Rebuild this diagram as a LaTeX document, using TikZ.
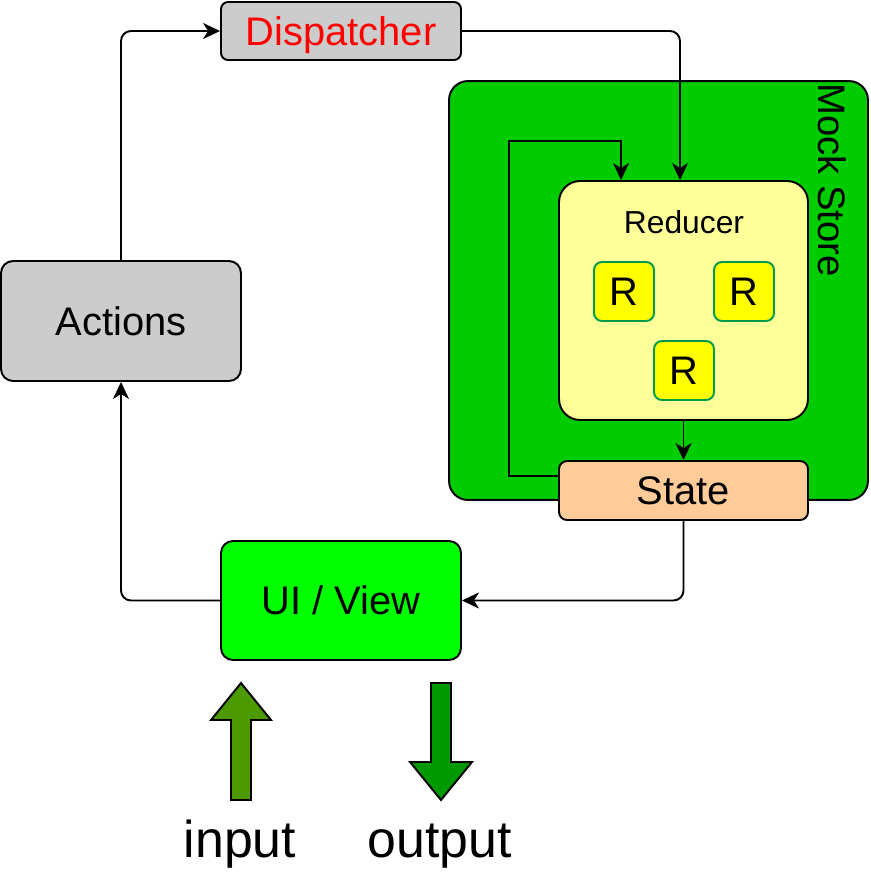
\documentclass[tikz,border=0pt]{standalone}
\usepackage{fontspec}
\setmainfont{Liberation Sans}
\usetikzlibrary{arrows.meta}

\definecolor{boxgray}{HTML}{CCCCCC}
\definecolor{storegreen}{HTML}{00CC00}
\definecolor{reducerfill}{HTML}{FFFF99}
\definecolor{rfill}{HTML}{FFFF00}
\definecolor{rborder}{HTML}{00994D}
\definecolor{statefill}{HTML}{FFCC99}
\definecolor{uifill}{HTML}{00FF00}
\definecolor{infill}{HTML}{4D9900}
\definecolor{outfill}{HTML}{009900}

\newcommand{\bigfont}{\fontsize{22.7}{26}\selectfont}
\newcommand{\midfont}{\fontsize{18.1}{21}\selectfont}
\newcommand{\hugefont}{\fontsize{29.5}{34}\selectfont}

\tikzset{
  box/.style={draw, line width=1.1pt, inner sep=0pt, font=\bigfont,
              text height=16.3pt, text depth=0pt},
  flow/.style={line width=1.1pt, -{Stealth[length=0.34cm, width=0.32cm, inset=0.1cm]}},
  bigarrow/.style={draw, line width=1.1pt, line join=miter},
}

\begin{document}
\begin{tikzpicture}[x=0.02cm, y=-0.02cm]
    \useasboundingbox (0,0) rectangle (870,872);

    % Conteneur du store
    \node[box, fill=storegreen, rounded corners=0.38cm,
          minimum width=8.38cm, minimum height=8.38cm] (store) at (658.5,290.5) {};
    \node[font=\fontsize{21.8}{25}\selectfont, rotate=-90] (storelbl) at (832,180) {Mock Store};

    % Boites principales
    \node[box, fill=boxgray, rounded corners=0.14cm, text=red,
          minimum width=4.8cm, minimum height=1.16cm] (disp) at (341,31) {Dispatcher};
    \node[box, fill=boxgray, rounded corners=0.24cm,
          minimum width=4.8cm, minimum height=2.4cm] (actions) at (121,321) {Actions};
    \node[box, fill=uifill, rounded corners=0.24cm,
          minimum width=4.8cm, minimum height=2.38cm] (ui) at (341,600.5) {UI / View};

    % Reducer et ses R
    \node[box, fill=reducerfill, rounded corners=0.42cm,
          minimum width=4.98cm, minimum height=4.78cm] (reducer) at (683.5,300.5) {};
    \node[font=\midfont] (reducerlbl) at (684,222) {Reducer};
    \foreach \name/\x/\y in {r1/624/291.5, r2/744/291.5, r3/684/370.5}
        \node[box, draw=rborder, fill=rfill, rounded corners=0.16cm,
              minimum width=1.2cm, minimum height=1.18cm] (\name) at (\x,\y) {R};

    % State
    \node[box, fill=statefill, rounded corners=0.16cm,
          minimum width=4.98cm, minimum height=1.18cm] (state) at (683.5,490.5) {State};

    % Connecteurs
    \draw[flow, rounded corners=0.2cm] (actions.north) |- (disp.west);
    \draw[flow, rounded corners=0.2cm] (disp.east) -| ([xshift=-0.07cm]reducer.north);
    \draw[flow] ([yshift=0.29cm]state.west) -- (509,476) |- (621,141) -- ([xshift=-1.25cm]reducer.north);
    \draw[flow] (reducer.south) -- (state.north);
    \draw[flow, rounded corners=0.2cm] (state.south) |- (ui.east);
    \draw[flow, rounded corners=0.2cm] (ui.west) -| (actions.south);

    % Fleches input / output
    \draw[bigarrow, fill=infill] (231,800) -- (231,720) -- (211,720) -- (241,683)
        -- (271,720) -- (251,720) -- (251,800) -- cycle;
    \draw[bigarrow, fill=outfill] (431,683) -- (451,683) -- (451,762) -- (472,762)
        -- (441,800) -- (410,762) -- (431,762) -- cycle;
    \node[font=\hugefont, anchor=base] (inlbl) at (240,857) {input};
    \node[font=\hugefont, anchor=base] (outlbl) at (440,857) {output};
\end{tikzpicture}
\end{document}
